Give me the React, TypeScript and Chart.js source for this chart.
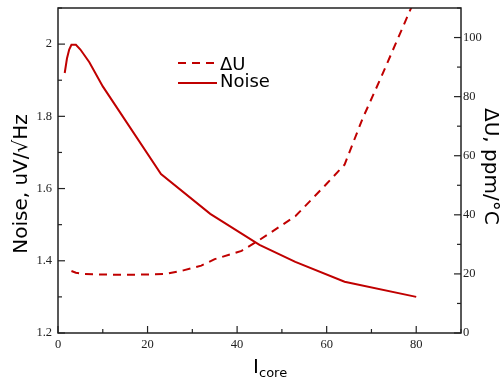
import { useEffect, useRef } from 'react';
import { Chart, registerables } from 'chart.js';

Chart.register(...registerables);

// Noise (left axis), uV/√Hz vs I_core
const noiseX = [1.5, 2, 2.5, 3, 4, 5, 7, 10, 23, 34, 45, 53, 64, 80];
const noiseY = [1.92, 1.96, 1.985, 1.998, 1.998, 1.985, 1.95, 1.883, 1.64, 1.53, 1.444, 1.397, 1.342, 1.3];

// ΔU (right axis), ppm/°C vs I_core
const duX = [3, 4, 6, 10, 15, 20, 24, 28, 32, 35, 41, 45, 53, 60, 64, 68, 72, 76, 80];
const duY = [21, 20.4, 20, 19.8, 19.7, 19.8, 20, 21.2, 22.8, 25, 27.8, 31.5, 39.5, 50.5, 57, 72.5, 86, 100, 114];

const xLabels = [0, 20, 40, 60, 80];
const leftLabels = [1.2, 1.4, 1.6, 1.8, 2];
const rightLabels = [0, 20, 40, 60, 80, 100];

const legendNames = ['ΔU', 'Noise'];
const leftTitle = 'Noise, uV/√Hz';
const rightTitle = 'ΔU, ppm/°C';
const xTitleMain = 'I';
const xTitleSub = 'core';

const RED = 'rgb(192,0,0)';
const AXIS = '#222';

function near(list: number[], v: number) {
  return list.some((l) => Math.abs(l - v) < 1e-6);
}

const framePlugin = {
  id: 'framePlugin',
  afterDraw(chart: any) {
    const { ctx, chartArea } = chart;
    const { left, right, top, bottom } = chartArea;
    ctx.save();
    ctx.strokeStyle = AXIS;
    ctx.lineWidth = 1.5;
    ctx.strokeRect(left, top, right - left, bottom - top);

    ctx.lineWidth = 1.2;
    const xs = chart.scales.x;
    xs.ticks.forEach((t: any) => {
      const p = xs.getPixelForValue(t.value);
      const len = near(xLabels, t.value) ? 7 : 4;
      ctx.beginPath();
      ctx.moveTo(p, bottom);
      ctx.lineTo(p, bottom - len);
      ctx.stroke();
    });
    const ys = chart.scales.y;
    ys.ticks.forEach((t: any) => {
      const p = ys.getPixelForValue(t.value);
      const len = near(leftLabels, t.value) ? 7 : 4;
      ctx.beginPath();
      ctx.moveTo(left, p);
      ctx.lineTo(left + len, p);
      ctx.stroke();
    });
    const y1 = chart.scales.y1;
    y1.ticks.forEach((t: any) => {
      const p = y1.getPixelForValue(t.value);
      const len = near(rightLabels, t.value) ? 7 : 4;
      ctx.beginPath();
      ctx.moveTo(right, p);
      ctx.lineTo(right - len, p);
      ctx.stroke();
    });

    // legend
    ctx.strokeStyle = RED;
    ctx.lineWidth = 2;
    ctx.setLineDash([8, 6]);
    ctx.beginPath();
    ctx.moveTo(178, 63);
    ctx.lineTo(217, 63);
    ctx.stroke();
    ctx.setLineDash([]);
    ctx.beginPath();
    ctx.moveTo(178, 83);
    ctx.lineTo(217, 83);
    ctx.stroke();
    ctx.fillStyle = '#000';
    ctx.font = '18px "DejaVu Sans"';
    ctx.textAlign = 'left';
    ctx.textBaseline = 'alphabetic';
    ctx.fillText(legendNames[0], 220, 70);
    ctx.fillText(legendNames[1], 220, 87);

    // titles
    ctx.font = '20px "DejaVu Sans"';
    ctx.save();
    ctx.translate(27, 184);
    ctx.rotate(-Math.PI / 2);
    ctx.textAlign = 'center';
    ctx.fillText(leftTitle, 0, 0);
    ctx.restore();

    ctx.save();
    ctx.translate(485, 108);
    ctx.rotate(Math.PI / 2);
    ctx.textAlign = 'left';
    ctx.fillText(rightTitle, 0, 0);
    ctx.restore();

    ctx.textAlign = 'left';
    ctx.fillText(xTitleMain, 253, 373);
    ctx.font = '13px "DejaVu Sans"';
    ctx.fillText(xTitleSub, 259, 377);
    ctx.restore();
  },
};

const tickFont = { family: '"Liberation Serif", "Times New Roman", serif', size: 12.5 };

const fitV = (w: number) => (s: any) => {
  s.width = w;
  s.paddingTop = 0;
  s.paddingBottom = 0;
};

export default function App() {
  const ref = useRef<HTMLCanvasElement | null>(null);
  useEffect(() => {
    if (!ref.current) return;
    const chart = new Chart(ref.current, {
      type: 'line',
      data: {
        datasets: [
          {
            label: legendNames[0],
            data: duX.map((x, i) => ({ x, y: duY[i] })),
            yAxisID: 'y1',
            borderColor: RED,
            borderWidth: 2,
            borderDash: [8, 6],
            pointRadius: 0,
            tension: 0,
            fill: false,
          },
          {
            label: legendNames[1],
            data: noiseX.map((x, i) => ({ x, y: noiseY[i] })),
            yAxisID: 'y',
            borderColor: RED,
            borderWidth: 2,
            pointRadius: 0,
            tension: 0,
            fill: false,
          },
        ],
      },
      options: {
        responsive: false,
        animation: false,
        layout: { padding: { top: 8, left: 0, right: 0, bottom: 0 } },
        plugins: { legend: { display: false }, tooltip: { enabled: false } },
        scales: {
          x: {
            type: 'linear',
            min: 0,
            max: 90,
            grid: { display: false, drawTicks: false },
            border: { display: false },
            afterFit: (s: any) => { s.height = 48; s.paddingLeft = 0; s.paddingRight = 0; },
            ticks: {
              stepSize: 10,
              autoSkip: false,
              maxRotation: 0,
              padding: 4,
              color: '#222',
              font: tickFont,
              callback: (v: any) => (near(xLabels, Number(v)) ? String(Math.round(Number(v))) : ''),
            },
          },
          y: {
            type: 'linear',
            position: 'left',
            min: 1.2,
            max: 2.1,
            grid: { display: false, drawTicks: false },
            border: { display: false },
            afterFit: fitV(58),
            ticks: {
              stepSize: 0.1,
              autoSkip: false,
              padding: 6,
              color: '#222',
              font: tickFont,
              callback: (v: any) => {
                const n = Math.round(Number(v) * 10) / 10;
                return near(leftLabels, n) ? String(n) : '';
              },
            },
          },
          y1: {
            type: 'linear',
            position: 'right',
            min: 0,
            max: 110,
            grid: { display: false, drawTicks: false },
            border: { display: false },
            afterFit: fitV(43),
            ticks: {
              stepSize: 10,
              autoSkip: false,
              padding: 2,
              color: '#222',
              font: tickFont,
              callback: (v: any) => (near(rightLabels, Number(v)) ? String(Math.round(Number(v))) : ''),
            },
          },
        },
      } as any,
      plugins: [framePlugin],
    });
    return () => chart.destroy();
  }, []);

  return (
    <div style={{ position: 'fixed', left: 0, top: 0, width: 504, height: 381, background: '#fff' }}>
      <canvas ref={ref} width={504} height={381} style={{ width: 504, height: 381, display: 'block' }} />
    </div>
  );
}
